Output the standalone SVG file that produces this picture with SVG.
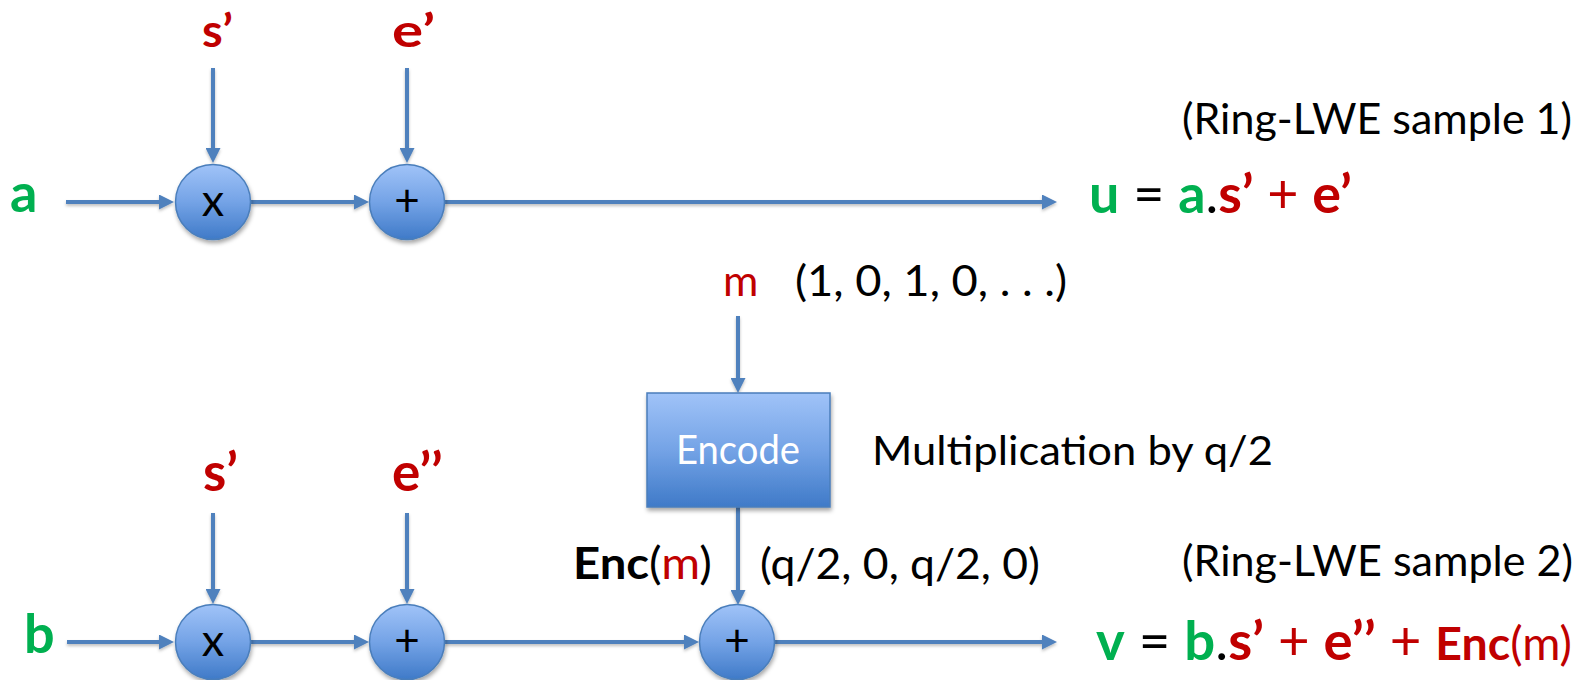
<svg xmlns="http://www.w3.org/2000/svg" width="1592" height="680" viewBox="0 0 1592 680">
  <defs>
    <linearGradient id="blueFill" x1="0" y1="0" x2="0" y2="1">
      <stop offset="0" stop-color="#A0C3F8"/>
      <stop offset="0.5" stop-color="#74A3E6"/>
      <stop offset="1" stop-color="#3F7AC8"/>
    </linearGradient>
    <filter id="shadow" x="-20%" y="-20%" width="140%" height="150%">
      <feDropShadow dx="1" dy="3" stdDeviation="2" flood-color="#000" flood-opacity="0.35"/>
    </filter>
    <filter id="lineShadow" x="-5%" y="-50%" width="110%" height="200%">
      <feDropShadow dx="0" dy="2" stdDeviation="1.5" flood-color="#000" flood-opacity="0.25"/>
    </filter>
    <marker id="arrow" markerWidth="15" markerHeight="15" refX="5" refY="7.5" orient="auto" markerUnits="userSpaceOnUse">
      <path d="M0,0 L15,7.5 L0,15 z" fill="#4F81BD"/>
    </marker>
    <style>
      .wire { stroke: #4F81BD; stroke-width: 4; fill: none; marker-end: url(#arrow); }
      .op { fill: url(#blueFill); stroke: #4A7EBB; stroke-width: 1.5; filter: url(#shadow); }
      .opText { font-family: Lato, "Open Sans", sans-serif; fill: #000; text-anchor: middle; }
      .sym { font-family: Lato, "Open Sans", sans-serif; font-weight: bold; }
      .lbl { font-family: Lato, "Open Sans", sans-serif; fill: #000; }
      .red { fill: #C00000; }
      .green { fill: #00B050; }
      .black { fill: #000; }
      .thin { font-weight: normal; }
    </style>
  </defs>

  <!-- connectors -->
  <g id="connectors" filter="url(#lineShadow)">
    <!-- row 1 -->
    <line class="wire" x1="213" y1="68" x2="213" y2="153"/>
    <line class="wire" x1="407" y1="68" x2="407" y2="153"/>
    <line class="wire" x1="66" y1="202" x2="164" y2="202"/>
    <line class="wire" x1="251" y1="202" x2="359" y2="202"/>
    <line class="wire" x1="445" y1="202" x2="1047" y2="202"/>
    <!-- message path -->
    <line class="wire" x1="738" y1="316" x2="738" y2="383"/>
    <line class="wire" x1="738" y1="507" x2="738" y2="595"/>
    <!-- row 2 -->
    <line class="wire" x1="213" y1="513" x2="213" y2="594"/>
    <line class="wire" x1="407" y1="513" x2="407" y2="594"/>
    <line class="wire" x1="67" y1="642" x2="164" y2="642"/>
    <line class="wire" x1="251" y1="642" x2="359" y2="642"/>
    <line class="wire" x1="445" y1="642" x2="689" y2="642"/>
    <line class="wire" x1="775" y1="642" x2="1047" y2="642"/>
  </g>

  <!-- row 1 operators -->
  <g id="mul1">
    <circle class="op" cx="213" cy="202" r="37.5"/>
    <text class="opText" x="213" y="216" font-size="45">x</text>
  </g>
  <g id="add1">
    <circle class="op" cx="407" cy="202" r="37.5"/>
    <text class="opText" x="407" y="216" font-size="44">+</text>
  </g>

  <!-- row 2 operators -->
  <g id="mul2">
    <circle class="op" cx="213" cy="642" r="37.5"/>
    <text class="opText" x="213" y="656" font-size="45">x</text>
  </g>
  <g id="add2">
    <circle class="op" cx="407" cy="642" r="37.5"/>
    <text class="opText" x="407" y="656" font-size="44">+</text>
  </g>
  <g id="add3">
    <circle class="op" cx="737" cy="642" r="37.5"/>
    <text class="opText" x="737" y="656" font-size="44">+</text>
  </g>

  <!-- encoder -->
  <g id="encode">
    <rect x="647" y="393" width="183" height="114" fill="url(#blueFill)" stroke="#4A7EBB" stroke-width="1.5" filter="url(#shadow)"/>
    <text x="738" y="464" font-family="Lato, 'Open Sans', sans-serif" font-size="40" fill="#FFFFFF" text-anchor="middle" textLength="124" lengthAdjust="spacingAndGlyphs">Encode</text>
  </g>

  <!-- inputs, row 1 -->
  <g id="in-a"><text class="sym green" x="10" y="212" font-size="54">a</text></g>
  <g id="in-s1"><text class="sym red" x="202" y="47" font-size="46" textLength="31" lengthAdjust="spacingAndGlyphs">s’</text></g>
  <g id="in-e1"><text class="sym red" x="392" y="47" font-size="46" textLength="43" lengthAdjust="spacingAndGlyphs">e’</text></g>

  <!-- inputs, row 2 -->
  <g id="in-b"><text class="sym green" x="24" y="653" font-size="54">b</text></g>
  <g id="in-s2"><text class="sym red" x="203" y="491" font-size="53">s’</text></g>
  <g id="in-e2"><text class="sym red" x="392" y="491" font-size="53">e’’</text></g>

  <!-- message -->
  <g id="msg">
    <text class="lbl red" x="723" y="296" font-size="43">m</text>
    <text class="lbl" x="795" y="296" font-size="43" textLength="272" lengthAdjust="spacingAndGlyphs">(1, 0, 1, 0, . . .)</text>
  </g>
  <g id="note-encode">
    <text class="lbl" x="872" y="465" font-size="41" textLength="401" lengthAdjust="spacingAndGlyphs">Multiplication by q/2</text>
  </g>
  <g id="enc-label">
    <text class="lbl" x="573" y="579" font-size="44" textLength="139" lengthAdjust="spacingAndGlyphs"><tspan font-weight="bold">Enc</tspan>(<tspan class="red">m</tspan>)</text>
    <text class="lbl" x="760" y="579" font-size="43" textLength="280" lengthAdjust="spacingAndGlyphs">(q/2, 0, q/2, 0)</text>
  </g>

  <!-- outputs -->
  <g id="out-u">
    <text class="lbl" x="1182" y="134" font-size="43" textLength="390" lengthAdjust="spacingAndGlyphs">(Ring-LWE sample 1)</text>
    <text class="sym" x="1089" y="213" font-size="54" textLength="263" lengthAdjust="spacingAndGlyphs"><tspan class="green">u</tspan><tspan class="black thin"> = </tspan><tspan class="green">a</tspan><tspan class="black thin">.</tspan><tspan class="red">s’</tspan><tspan class="red thin"> + </tspan><tspan class="red">e’</tspan></text>
  </g>
  <g id="out-v">
    <text class="lbl" x="1182" y="576" font-size="43" textLength="391" lengthAdjust="spacingAndGlyphs">(Ring-LWE sample 2)</text>
    <text class="sym" x="1096" y="660" font-size="54" textLength="476" lengthAdjust="spacingAndGlyphs"><tspan class="green">v</tspan><tspan class="black thin"> = </tspan><tspan class="green">b</tspan><tspan class="black thin">.</tspan><tspan class="red">s’</tspan><tspan class="red thin"> + </tspan><tspan class="red">e’’</tspan><tspan class="red thin"> + </tspan><tspan class="red" font-size="46">Enc</tspan><tspan class="red thin" font-size="46">(m)</tspan></text>
  </g>
</svg>
